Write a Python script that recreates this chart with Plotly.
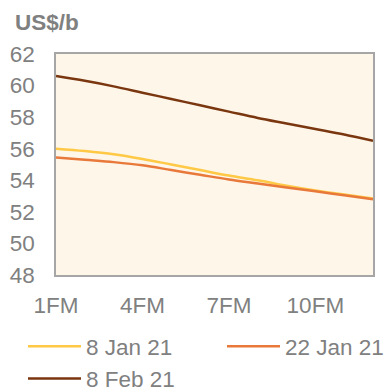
import plotly.graph_objects as go

months = ["1FM", "2FM", "3FM", "4FM", "5FM", "6FM", "7FM", "8FM", "9FM", "10FM", "11FM", "12FM"]
jan8 = [56.0, 55.85, 55.65, 55.35, 55.0, 54.65, 54.3, 54.0, 53.65, 53.35, 53.1, 52.85]
jan22 = [55.45, 55.3, 55.15, 54.95, 54.65, 54.35, 54.05, 53.8, 53.55, 53.3, 53.05, 52.8]
feb8 = [60.6, 60.3, 59.95, 59.55, 59.15, 58.75, 58.35, 57.95, 57.6, 57.25, 56.9, 56.5]

series_names = ["8 Jan 21", "22 Jan 21", "8 Feb 21"]
series_values = [jan8, jan22, feb8]
colors = ["#FFC845", "#E8793A", "#7A360F"]
legend_ids = ["legend", "legend2", "legend"]

FONT = "Liberation Sans, Arial, sans-serif"
GREY = "#808080"

fig = go.Figure()
for name, vals, col, lg in zip(series_names, series_values, colors, legend_ids):
    fig.add_trace(go.Scatter(x=months, y=vals, name=name, mode="lines", legend=lg,
                             line=dict(color=col, width=2.5, shape="spline")))

W, H = 390, 387
L, R, T, B = 56, 17, 54, 112
pw, ph = W - L - R, H - T - B

def px_x(px):
    return (px - L) / pw

def px_y(py):
    return (H - B - py) / ph

legend_common = dict(orientation="v", xanchor="left", yanchor="top",
                     itemwidth=53, tracegroupgap=0,
                     font=dict(family=FONT, size=22.5, color=GREY),
                     bgcolor="rgba(0,0,0,0)")

fig.update_layout(
    width=W, height=H,
    margin=dict(l=L, r=R, t=T, b=B, autoexpand=False),
    paper_bgcolor="white",
    plot_bgcolor="#FDF6E9",
    font=dict(family=FONT, size=22.5, color=GREY),
    title=dict(text="<b>US$/b</b>", x=15/W, xanchor="left", xref="container",
               y=1-22/H, yanchor="middle", yref="container",
               font=dict(family=FONT, size=22.5, color=GREY)),
    xaxis=dict(type="category", range=[0, 11], tick0=0, dtick=3,
               showgrid=False, zeroline=False, ticks="",
               showline=True, linecolor="#A6A6A6", linewidth=1.5, mirror=True,
               ticklabelstandoff=9),
    yaxis=dict(range=[48, 62], dtick=2, showgrid=False, zeroline=False, ticks="",
               showline=True, linecolor="#A6A6A6", linewidth=1.5, mirror=True,
               ticklabelstandoff=15),
    legend=dict(x=px_x(23), y=px_y(325), **legend_common),
    legend2=dict(x=px_x(222), y=px_y(325), **legend_common),
    showlegend=True,
)

fig.write_html("out.html")
